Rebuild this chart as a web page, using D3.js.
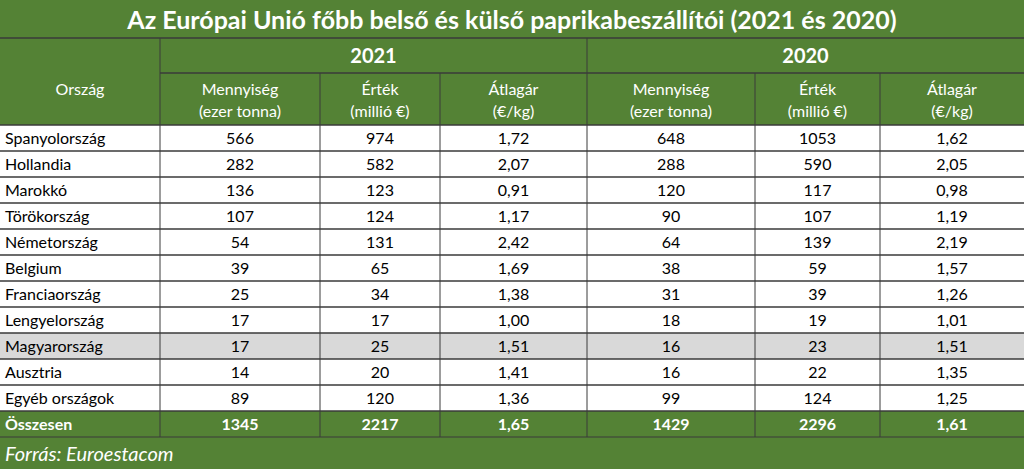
<!DOCTYPE html>
<html><head><meta charset="utf-8">
<script src="https://cdn.jsdelivr.net/npm/d3@7"></script>
<style>body{margin:0;background:#fff}svg{display:block;font-family:Lato,"Open Sans",sans-serif}</style>
</head><body><div id="chart"></div>
<script>
var countries = ["Spanyolország","Hollandia","Marokkó","Törökország","Németország","Belgium","Franciaország","Lengyelország","Magyarország","Ausztria","Egyéb országok"];
var qty2021 = [566,282,136,107,54,39,25,17,17,14,89];
var val2021 = [974,582,123,124,131,65,34,17,25,20,120];
var avg2021 = ["1,72","2,07","0,91","1,17","2,42","1,69","1,38","1,00","1,51","1,41","1,36"];
var qty2020 = [648,288,120,90,64,38,31,18,16,16,99];
var val2020 = [1053,590,117,107,139,59,39,19,23,22,124];
var avg2020 = ["1,62","2,05","0,98","1,19","2,19","1,57","1,26","1,01","1,51","1,35","1,25"];
var totals = ["1345","2217","1,65","1429","2296","1,61"];
var years = ["2021","2020"];
var headers = [["Mennyiség","(ezer tonna)"],["Érték","(millió €)"],["Átlagár","(€/kg)"]];

var W = 1024, H = 469, green = "#548235", line = "#3a3a3a";
var edges = [0,160,320,440,587,755,880,1024];
var svg = d3.select("#chart").append("svg").attr("width",W).attr("height",H);

var y = d3.scaleBand().domain(countries).range([125,411]);

// backgrounds
svg.append("rect").attr("width",W).attr("height",125).attr("fill",green);
svg.append("rect").attr("y",411).attr("width",W).attr("height",H-411).attr("fill",green);
svg.selectAll("rect.row").data(countries).enter().append("rect")
  .attr("x",0).attr("y",d=>y(d)).attr("width",W).attr("height",y.bandwidth())
  .attr("fill",d=>d==="Magyarország"?"#d9d9d9":"#fff");

svg.append("text").attr("x",W/2).attr("y",29).attr("text-anchor","middle")
  .attr("fill","#fff").attr("font-weight","bold").attr("font-size",25).text("Az Európai Unió főbb belső és külső paprikabeszállítói (2021 és 2020)");

// lines
var hl = [38,73,125].concat(countries.map(c=>y(c)+y.bandwidth()));
svg.selectAll("line.h").data(hl).enter().append("line")
  .attr("x1",d=>d===73?160:0).attr("x2",W).attr("y1",d=>d).attr("y2",d=>d)
  .attr("stroke",line).attr("stroke-width",1.3);
svg.append("line").attr("x1",0).attr("x2",W).attr("y1",437).attr("y2",437).attr("stroke",line);
edges.slice(1,7).forEach(function(x,i){
  var top = (x===160||x===587)?38:73;
  svg.append("line").attr("x1",x).attr("x2",x).attr("y1",top).attr("y2",437)
    .attr("stroke",line).attr("stroke-width",1);
});

// headers
years.forEach(function(yr,i){
  svg.append("text").attr("x",(edges[1+3*i]+edges[4+3*i])/2).attr("y",63).attr("text-anchor","middle")
    .attr("fill","#fff").attr("font-weight","bold").attr("font-size",20).text(yr);
  headers.forEach(function(h,j){
    var cx=(edges[1+3*i+j]+edges[2+3*i+j])/2;
    h.forEach(function(t,k){
      svg.append("text").attr("x",cx).attr("y",95+k*22).attr("text-anchor","middle")
        .attr("fill","#fff").attr("font-size",16).text(t);
    });
  });
});
svg.append("text").attr("x",80).attr("y",95).attr("text-anchor","middle").attr("fill","#fff").attr("font-size",16).text("Ország");

// body
var cols = [qty2021,val2021,avg2021,qty2020,val2020,avg2020];
var g = svg.append("g").attr("font-size",16).attr("fill","#000");
countries.forEach(function(c,r){
  var ty = y(c)+y.bandwidth()/2+6;
  g.append("text").attr("x",5).attr("y",ty).text(c);
  cols.forEach(function(col,j){
    g.append("text").attr("x",(edges[j+1]+edges[j+2])/2).attr("y",ty).attr("text-anchor","middle").text(col[r]);
  });
});
svg.append("text").attr("x",5).attr("y",430).attr("fill","#fff").attr("font-weight","bold").attr("font-size",16).text("Összesen");
totals.forEach(function(t,j){
  svg.append("text").attr("x",(edges[j+1]+edges[j+2])/2).attr("y",430).attr("text-anchor","middle")
    .attr("fill","#fff").attr("font-weight","bold").attr("font-size",16).text(t);
});
svg.append("text").attr("x",5).attr("y",461).attr("fill","#fff").attr("font-style","italic").attr("font-size",20).text("Forrás: Euroestacom");
</script></body></html>
